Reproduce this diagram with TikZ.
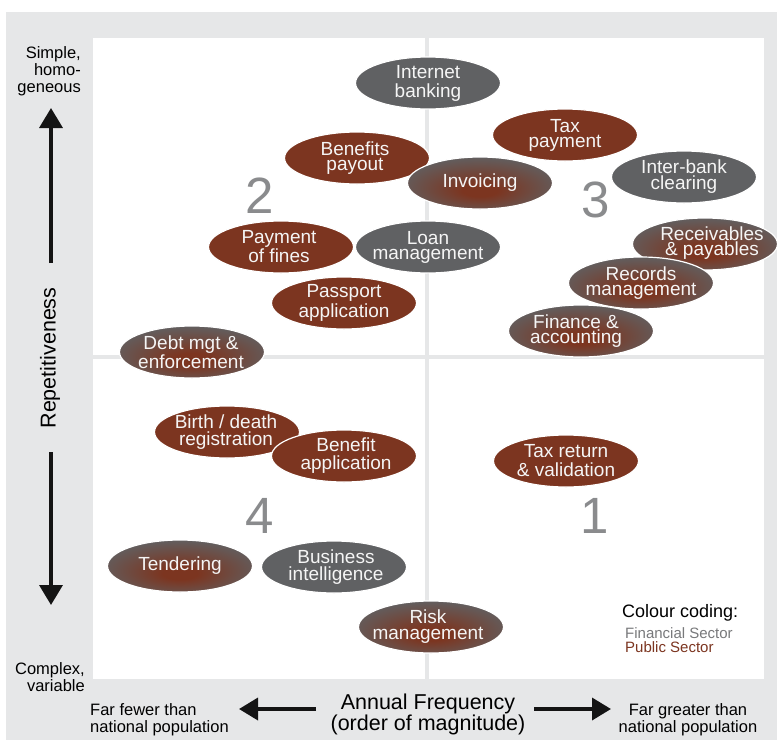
\documentclass[tikz,border=0pt]{standalone}
\usepackage{fontspec}
\setmainfont{Liberation Sans}
\usetikzlibrary{shapes.geometric,arrows.meta}

\definecolor{pubred}{RGB}{124,53,32}
\definecolor{fingray}{RGB}{96,97,99}
\definecolor{panelgray}{RGB}{230,231,232}
\definecolor{numgray}{RGB}{138,139,141}
\definecolor{legendgray}{RGB}{120,121,123}
\definecolor{arrowink}{RGB}{20,20,20}

% gray rim fading into a red core, for processes shared by both sectors
\pgfdeclareradialshading{mixshade}{\pgfpoint{0bp}{-8bp}}{%
  color(0bp)=(pubred); color(6bp)=(pubred); color(30bp)=(fingray); color(50bp)=(fingray)}

\tikzset{
  blob/.style={ellipse, minimum width=145pt, minimum height=52pt, inner sep=0pt,
               draw=white, line width=1.2pt},
  fin/.style={blob, fill=fingray},
  pub/.style={blob, fill=pubred},
  mix/.style={blob, shade, shading=mixshade},
  lbl/.style={text=white!96!black, align=center, inner sep=0pt,
              font=\fontsize{19}{#1}\selectfont},
  lbl/.default=16,
  quadnum/.style={text=numgray, inner sep=0pt, font=\fontsize{51}{51}\selectfont},
  axistext/.style={text=black, inner sep=0pt, font=\fontsize{16.5}{17}\selectfont},
  bigaxis/.style={text=black, inner sep=0pt, font=\fontsize{21.5}{18}\selectfont},
  axisarrow/.style={draw=arrowink, line width=3.6pt,
                    -{Triangle[width=23pt,length=20pt]}},
}

\begin{document}
\begin{tikzpicture}[x=1pt, y=-1pt]
  \useasboundingbox (0,0) rectangle (777,740);
  \fill[white] (0,0) rectangle (777,740);
  % frame and plotting area
  \fill[panelgray] (6,12) rectangle (777,740);
  \fill[white] (93,38) rectangle (764,679);
  % quadrant dividers
  \draw[panelgray, line width=4pt] (427,38) -- (427,679);
  \draw[panelgray, line width=4pt] (93,357) -- (764,357);

  % quadrant numbers
  \node[quadnum] (q2) at (260,196) {2};
  \node[quadnum] (q3) at (596,200) {3};
  \node[quadnum] (q4) at (260,516) {4};
  \node[quadnum] (q1) at (595,516) {1};

  % processes
  \node[fin] (inet) at (428,83) {};
  \node[lbl=19] (inet-t) at (inet) {Internet\\banking};

  \node[pub] (bpay) at (357,158) {};
  \node[lbl=15] (bpay-t) at (355,158) {Benefits\\payout};

  \node[pub] (taxp) at (565,135) {};
  \node[lbl=15] (taxp-t) at (taxp) {Tax\\payment};

  \node[mix] (invo) at (480,183) {};
  \node[lbl] (invo-t) at (invo) {Invoicing};

  \node[fin] (ibank) at (684,177) {};
  \node[lbl=16] (ibank-t) at (ibank) {Inter-bank\\clearing};

  \node[pub] (fines) at (281,247) {};
  \node[lbl=19] (fines-t) at (279,247) {Payment\\of fines};

  \node[fin] (loan) at (428,247) {};
  \node[lbl=15] (loan-t) at (loan) {Loan\\management};

  \node[pub] (pass) at (344,303) {};
  \node[lbl=19.5] (pass-t) at (pass) {Passport\\application};

  \node[mix] (recv) at (705,244) {};
  \node[lbl=15] (recv-t) at (712,243) {Receivables\\\&~payables};

  \node[mix] (recs) at (641,283) {};
  \node[lbl=14.5] (recs-t) at (recs) {Records\\management};

  \node[mix] (fina) at (581,331) {};
  \node[lbl=15] (fina-t) at (576,331) {Finance \&\\accounting};

  \node[mix] (debt) at (192,352) {};
  \node[lbl=16] (debt-t) at (191,352) {Debt mgt \&\\enforcement};

  \node[pub] (birth) at (227,432) {};
  \node[lbl=17] (birth-t) at (226,432) {Birth / death\\registration};

  \node[pub] (bapp) at (344,456) {};
  \node[lbl=18] (bapp-t) at (346,456) {Benefit\\application};

  \node[pub] (taxr) at (566,461) {};
  \node[lbl=19] (taxr-t) at (taxr) {Tax return\\\&~validation};

  \node[mix] (tend) at (180,566) {};
  \node[lbl] (tend-t) at (tend) {Tendering};

  \node[fin] (bint) at (334,567) {};
  \node[lbl=17] (bint-t) at (336,567) {Business\\intelligence};

  \node[mix] (risk) at (431,627) {};
  \node[lbl=16] (risk-t) at (428,627) {Risk\\management};

  % vertical axis
  \node[axistext, anchor=north east, align=right] (simple) at (81,46) {Simple,\\homo-\\geneous};
  \node[axistext, anchor=north east, align=right] (complex) at (85,662) {Complex,\\variable};
  \node[text=black, inner sep=0pt, rotate=90, font=\fontsize{21.5}{22}\selectfont]
       (rep) at (50,358) {Repetitiveness};
  \coordinate (up-a) at (51,263);
  \coordinate (up-b) at (51,108);
  \coordinate (dn-a) at (51,452);
  \coordinate (dn-b) at (51,605);
  \draw[axisarrow] (up-a) -- (up-b);
  \draw[axisarrow] (dn-a) -- (dn-b);

  % horizontal axis
  \node[bigaxis, anchor=north, align=center] (freq) at (428,694)
       {Annual Frequency\\(order of magnitude)};
  \node[axistext, anchor=north west, align=left] (fewer) at (90,703)
       {Far fewer than\\national population};
  \node[axistext, anchor=north, align=center] (greater) at (688,703)
       {Far greater than\\national population};
  \coordinate (lt-a) at (316,709);
  \coordinate (lt-b) at (239,709);
  \coordinate (rt-a) at (534,709);
  \coordinate (rt-b) at (611,709);
  \draw[axisarrow, -{Triangle[width=22pt,length=19pt]}] (lt-a) -- (lt-b);
  \draw[axisarrow, -{Triangle[width=22pt,length=19pt]}] (rt-a) -- (rt-b);

  % legend
  \node[anchor=base west, inner sep=0pt, font=\fontsize{18}{18}\selectfont]
       (key) at (622,617) {Colour coding:};
  \node[anchor=base west, inner sep=0pt, text=legendgray, font=\fontsize{15}{15}\selectfont]
       (key-fin) at (625,638) {Financial Sector};
  \node[anchor=base west, inner sep=0pt, text=pubred, font=\fontsize{15}{15}\selectfont]
       (key-pub) at (625,652) {Public Sector};
\end{tikzpicture}
\end{document}
